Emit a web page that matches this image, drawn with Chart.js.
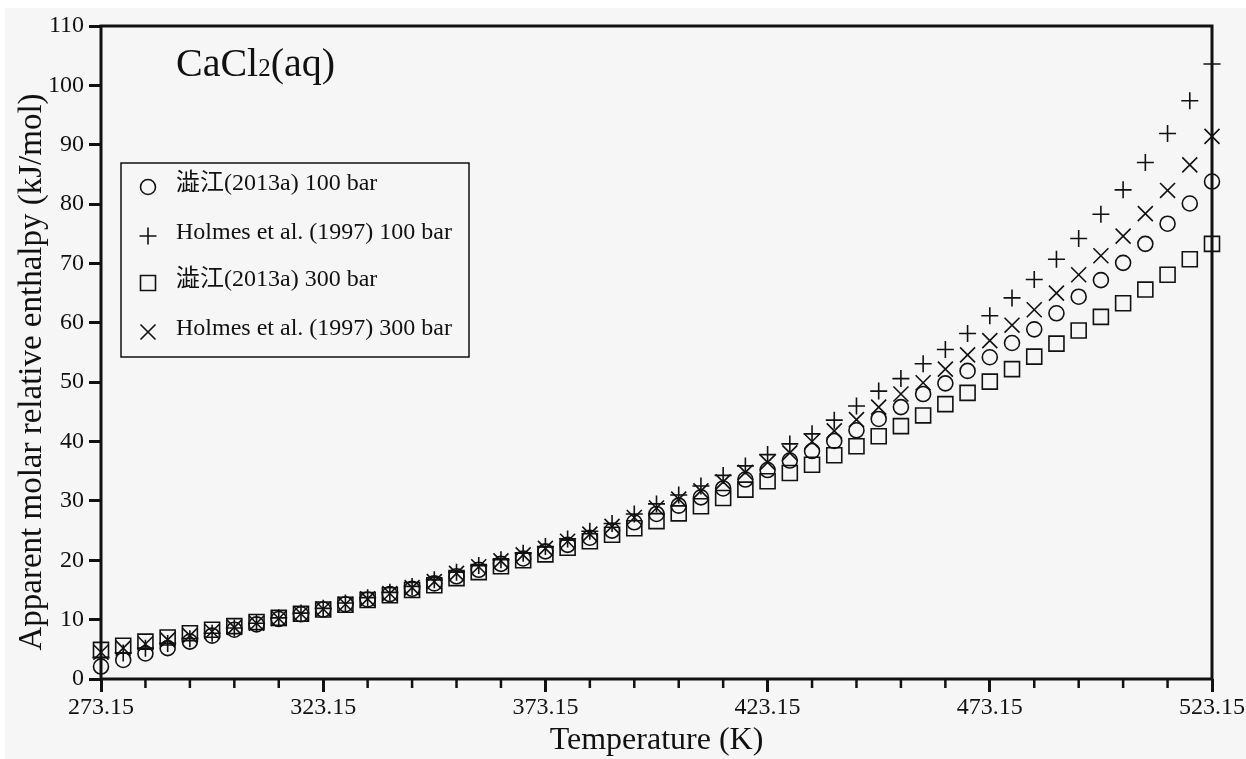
<!DOCTYPE html>
<html>
<head>
<meta charset="utf-8">
<script src="https://cdn.jsdelivr.net/npm/chart.js"></script>
<style>
  html, body { margin: 0; padding: 0; background: #ffffff; }
  canvas { display: block; }
</style>
</head>
<body>
<canvas id="enthalpyChart" width="1246" height="759"></canvas>
<script>
// Temperature (K), every 5 K
const temps = [
  273.15, 278.15, 283.15, 288.15, 293.15, 298.15, 303.15, 308.15, 313.15, 318.15,
  323.15, 328.15, 333.15, 338.15, 343.15, 348.15, 353.15, 358.15, 363.15, 368.15,
  373.15, 378.15, 383.15, 388.15, 393.15, 398.15, 403.15, 408.15, 413.15, 418.15,
  423.15, 428.15, 433.15, 438.15, 443.15, 448.15, 453.15, 458.15, 463.15, 468.15,
  473.15, 478.15, 483.15, 488.15, 493.15, 498.15, 503.15, 508.15, 513.15, 518.15,
  523.15,
];
const xTickLabels = [273.15, 323.15, 373.15, 423.15, 473.15, 523.15];
const xMinorTicks = [
  283.15, 293.15, 303.15, 313.15, 333.15, 343.15, 353.15, 363.15, 383.15, 393.15,
  403.15, 413.15, 433.15, 443.15, 453.15, 463.15, 483.15, 493.15, 503.15, 513.15,
];

// Apparent molar relative enthalpy (kJ/mol)
const shibue100 = [
  2.1, 3.2, 4.3, 5.2, 6.3, 7.3, 8.3, 9.2, 10.1, 10.9,
  11.7, 12.6, 13.4, 14.3, 15.2, 16.1, 17.3, 18.4, 19.4, 20.3,
  21.5, 22.6, 23.8, 25.0, 26.4, 27.8, 29.2, 30.6, 32.1, 33.6,
  35.2, 36.8, 38.4, 40.1, 41.9, 43.8, 45.8, 48.0, 49.8, 51.9,
  54.2, 56.6, 58.9, 61.6, 64.4, 67.2, 70.1, 73.3, 76.7, 80.1,
  83.8,
];
const holmes100 = [
  3.6, 4.4, 5.2, 6.0, 6.8, 7.7, 8.6, 9.4, 10.3, 11.1,
  11.9, 12.8, 13.7, 14.6, 15.6, 16.7, 18.0, 19.1, 20.1, 21.2,
  22.3, 23.6, 24.9, 26.2, 27.8, 29.5, 31.0, 32.5, 34.3, 35.9,
  37.8, 39.6, 41.3, 43.6, 46.0, 48.5, 50.6, 53.1, 55.5, 58.2,
  61.2, 64.2, 67.3, 70.7, 74.2, 78.3, 82.4, 87.0, 91.9, 97.4,
  103.6,
];
const shibue300 = [
  4.9, 5.6, 6.3, 7.0, 7.7, 8.3, 8.9, 9.6, 10.3, 11.0,
  11.7, 12.5, 13.3, 14.1, 15.0, 15.8, 17.0, 18.0, 19.0, 20.0,
  21.0, 22.1, 23.2, 24.3, 25.4, 26.6, 27.9, 29.1, 30.5, 31.9,
  33.3, 34.7, 36.1, 37.7, 39.2, 40.9, 42.6, 44.4, 46.3, 48.2,
  50.1, 52.2, 54.3, 56.5, 58.7, 61.0, 63.3, 65.6, 68.1, 70.7,
  73.3,
];
const holmes300 = [
  4.5, 5.2, 5.9, 6.6, 7.3, 8.0, 8.7, 9.4, 10.2, 11.0,
  11.8, 12.6, 13.5, 14.4, 15.4, 16.4, 17.8, 18.9, 19.9, 20.9,
  22.0, 23.2, 24.4, 25.7, 27.2, 28.8, 30.3, 31.7, 33.2, 34.8,
  36.5, 38.1, 40.0, 41.8, 43.7, 45.8, 48.0, 49.9, 52.2, 54.6,
  57.0, 59.6, 62.2, 65.0, 68.1, 71.3, 74.6, 78.4, 82.3, 86.6,
  91.4,
];

const seriesLabels = [
  "澁江(2013a) 100 bar",
  "Holmes et al. (1997) 100 bar",
  "澁江(2013a) 300 bar",
  "Holmes et al. (1997) 300 bar",
];

const serif = "'Liberation Serif', 'Noto Sans CJK JP', serif";
const ink = "#111111";

function pts(ys) {
  return temps.map((t, i) => ({ x: t, y: ys[i] }));
}

function marker(style, radius) {
  return {
    showLine: false,
    pointStyle: style,
    pointRadius: radius,
    pointHoverRadius: radius,
    pointBorderWidth: 1.6,
    borderColor: ink,
    backgroundColor: "rgba(0,0,0,0)",
    clip: false,
  };
}

// draws the paper, frame, minor ticks, label text and legend
const decor = {
  id: "decor",
  beforeDraw(chart) {
    const ctx = chart.ctx;
    ctx.save();
    ctx.fillStyle = "#f6f6f6";
    ctx.fillRect(5, 8, chart.width, chart.height);
    ctx.restore();
  },
  afterDraw(chart) {
    const ctx = chart.ctx;
    const a = chart.chartArea;
    const xs = chart.scales.x;
    ctx.save();

    // frame
    ctx.strokeStyle = ink;
    ctx.lineWidth = 3;
    ctx.strokeRect(a.left, a.top, a.right - a.left, a.bottom - a.top);

    // minor ticks on x
    ctx.lineWidth = 2.5;
    xMinorTicks.forEach(v => {
      const px = xs.getPixelForValue(v);
      ctx.beginPath();
      ctx.moveTo(px, a.bottom);
      ctx.lineTo(px, a.bottom + 9);
      ctx.stroke();
    });

    // y title
    ctx.fillStyle = ink;
    ctx.font = "33px " + serif;
    ctx.textAlign = "center";
    ctx.textBaseline = "middle";
    ctx.translate(32, 372);
    ctx.rotate(-Math.PI / 2);
    ctx.fillText("Apparent molar relative enthalpy (kJ/mol)", 0, 0);
    ctx.setTransform(1, 0, 0, 1, 0, 0);

    // CaCl2(aq)
    ctx.textAlign = "left";
    ctx.textBaseline = "alphabetic";
    let x = 176;
    ctx.font = "40px " + serif;
    ctx.fillText("CaCl", x, 76);
    x += ctx.measureText("CaCl").width;
    ctx.font = "25px " + serif;
    ctx.fillText("2", x, 76);
    x += ctx.measureText("2").width;
    ctx.font = "40px " + serif;
    ctx.fillText("(aq)", x, 76);

    // legend
    ctx.lineWidth = 1.5;
    ctx.strokeRect(121, 163, 348, 194);
    const rows = [187, 236, 283, 332];
    const mx = 148;
    ctx.lineWidth = 1.6;
    rows.forEach((y, i) => {
      ctx.beginPath();
      if (i === 0) {
        ctx.arc(mx, y, 7.5, 0, Math.PI * 2);
      } else if (i === 1) {
        ctx.moveTo(mx - 8.5, y); ctx.lineTo(mx + 8.5, y);
        ctx.moveTo(mx, y - 8.5); ctx.lineTo(mx, y + 8.5);
      } else if (i === 2) {
        ctx.rect(mx - 7.5, y - 7.5, 15, 15);
      } else {
        ctx.moveTo(mx - 7.5, y - 7.5); ctx.lineTo(mx + 7.5, y + 7.5);
        ctx.moveTo(mx + 7.5, y - 7.5); ctx.lineTo(mx - 7.5, y + 7.5);
      }
      ctx.stroke();
      ctx.font = "24px " + serif;
      ctx.textBaseline = "middle";
      ctx.fillText(seriesLabels[i], 176, y - 3);
    });

    ctx.restore();
  },
};

new Chart(document.getElementById("enthalpyChart"), {
  type: "scatter",
  data: {
    datasets: [
      Object.assign({ label: seriesLabels[0], data: pts(shibue100) }, marker("circle", 7.5)),
      Object.assign({ label: seriesLabels[1], data: pts(holmes100) }, marker("cross", 8.5)),
      Object.assign({ label: seriesLabels[2], data: pts(shibue300) }, marker("rect", 10.6)),
      Object.assign({ label: seriesLabels[3], data: pts(holmes300) }, marker("crossRot", 10.6)),
    ],
  },
  options: {
    responsive: false,
    animation: false,
    layout: { padding: { left: 0, top: 26, right: 34, bottom: 0 } },
    plugins: {
      legend: { display: false },
      tooltip: { enabled: false },
    },
    scales: {
      x: {
        type: "linear",
        min: 273.15,
        max: 523.15,
        afterBuildTicks: scale => {
          scale.ticks = xTickLabels.map(v => ({ value: v }));
        },
        afterFit: scale => { scale.height = 80; },
        border: { display: false },
        grid: {
          drawOnChartArea: false,
          drawTicks: true,
          tickLength: 13,
          tickWidth: 3,
          tickColor: ink,
        },
        ticks: {
          color: ink,
          padding: 1,
          maxRotation: 0,
          font: { family: serif, size: 24 },
          callback: v => Number(v).toFixed(2),
        },
        title: {
          display: true,
          text: "Temperature (K)",
          color: ink,
          font: { family: serif, size: 32, lineHeight: 1.0 },
          padding: { top: 0, bottom: 2 },
        },
      },
      y: {
        min: 0,
        max: 110,
        afterFit: scale => { scale.width = 101; },
        border: { display: false },
        grid: {
          drawOnChartArea: false,
          drawTicks: true,
          tickLength: 12,
          tickWidth: 3,
          tickColor: ink,
        },
        ticks: {
          stepSize: 10,
          color: ink,
          padding: 5,
          font: { family: serif, size: 24 },
        },
      },
    },
  },
  plugins: [decor],
});
</script>
</body>
</html>
